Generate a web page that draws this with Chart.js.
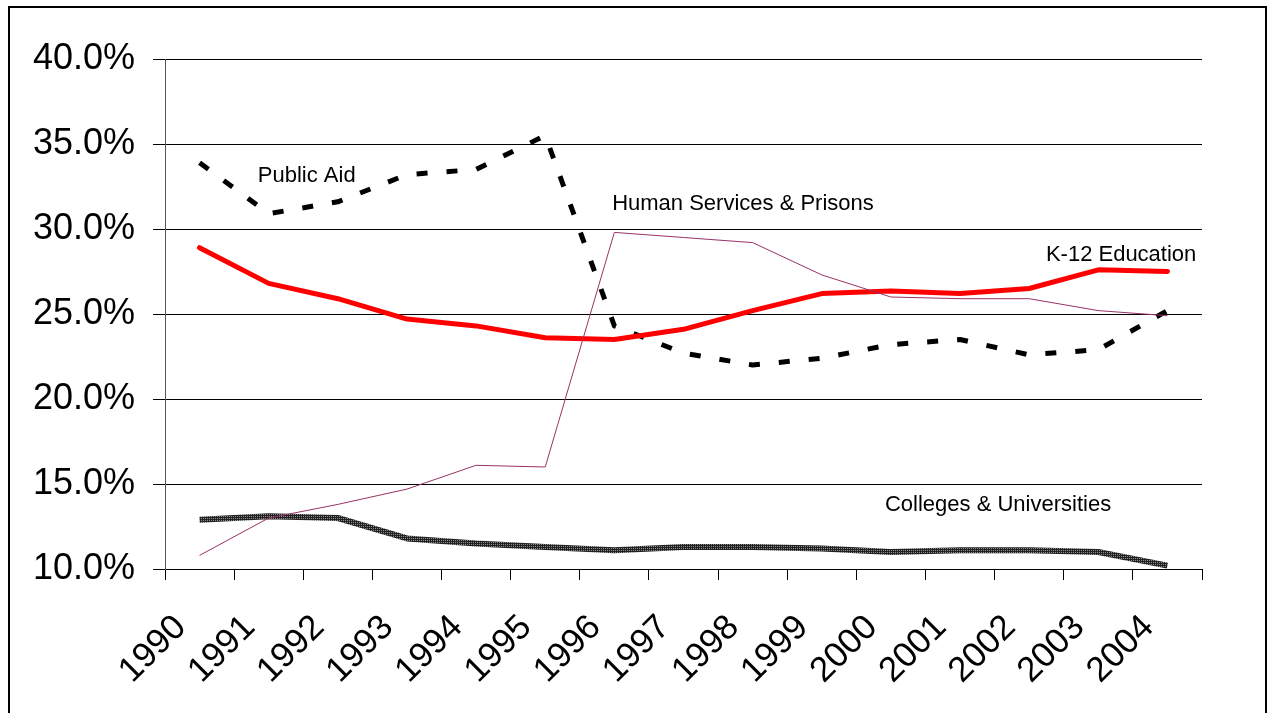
<!DOCTYPE html>
<html>
<head>
<meta charset="utf-8">
<script src="https://cdn.jsdelivr.net/npm/chart.js@4.4.1/dist/chart.umd.min.js"></script>
<style>
    body { margin: 0; background: #fff; }
    #wrap { width: 1270px; height: 713px; position: relative; }
</style>
</head>
<body>
<div id="wrap"><canvas id="spendChart"></canvas></div>
<script>
// data (share of general funds, %)
const years = ['1990', '1991', '1992', '1993', '1994', '1995', '1996', '1997', '1998', '1999', '2000', '2001', '2002', '2003', '2004'];
const publicAid = [33.9, 30.9, 31.6, 33.2, 33.5, 35.5, 24.3, 22.7, 22.0, 22.4, 23.2, 23.5, 22.6, 22.9, 25.2];
const k12Education = [28.9, 26.8, 25.9, 24.7, 24.3, 23.6, 23.5, 24.1, 25.2, 26.2, 26.35, 26.2, 26.5, 27.6, 27.5];
const humanServices = [10.8, 13.0, 13.8, 14.7, 16.1, 16.0, 29.8, 29.5, 29.2, 27.3, 26.0, 25.9, 25.9, 25.2, 24.9];
const colleges = [12.9, 13.1, 13.0, 11.8, 11.5, 11.3, 11.1, 11.3, 11.3, 11.2, 11.0, 11.1, 11.1, 11.0, 10.2];
const yTicks = [10, 15, 20, 25, 30, 35, 40];

// series names written inside the plot, anchored in data units (category index, value)
const seriesLabels = [
    { text: 'Public Aid', at: 1.55, value: 33.1 },
    { text: 'Human Services & Prisons', at: 7.86, value: 31.5 },
    { text: 'K-12 Education', at: 13.33, value: 28.5 },
    { text: 'Colleges & Universities', at: 11.55, value: 13.75 }
];

const FONT = '"Liberation Sans", Arial, sans-serif';

function texturePattern() {
    const c = document.createElement('canvas');
    c.width = 2; c.height = 2;
    const g = c.getContext('2d');
    g.fillStyle = '#222';
    g.fillRect(0, 0, 2, 2);
    g.fillStyle = '#8c8c8c';
    g.fillRect(1, 0, 1, 1);
    return g.createPattern(c, 'repeat');
}

// white page + outer frame
const framePlugin = {
    id: 'frame',
    beforeDraw(chart) {
        const ctx = chart.ctx;
        ctx.save();
        ctx.fillStyle = '#fff';
        ctx.fillRect(0, 0, chart.width, chart.height);
        ctx.strokeStyle = '#000';
        ctx.lineWidth = 2;
        ctx.strokeRect(9, 7, 1257, 740);
        ctx.restore();
    }
};

const seriesLabelPlugin = {
    id: 'seriesLabels',
    afterDatasetsDraw(chart) {
        const ctx = chart.ctx;
        const xs = chart.scales.x, ys = chart.scales.y;
        const step = xs.getPixelForValue(1) - xs.getPixelForValue(0);
        ctx.save();
        ctx.fillStyle = '#000';
        ctx.font = '22px ' + FONT;
        ctx.textAlign = 'center';
        ctx.textBaseline = 'middle';
        seriesLabels.forEach(l => {
            const px = xs.getPixelForValue(0) + l.at * step;
            ctx.fillText(l.text, px, ys.getPixelForValue(l.value));
        });
        ctx.restore();
    }
};

new Chart(document.getElementById('spendChart'), {
    type: 'line',
    data: {
        labels: years,
        datasets: [
            {
                label: 'Human Services & Prisons',
                data: humanServices,
                borderColor: '#993366',
                borderWidth: 1,
                order: 1
            },
            {
                label: 'K-12 Education',
                data: k12Education,
                borderColor: '#ff0000',
                borderWidth: 5,
                borderCapStyle: 'round',
                order: 2
            },
            {
                label: 'Public Aid',
                data: publicAid,
                borderColor: '#000',
                borderWidth: 5,
                borderDash: [11, 19],
                order: 3
            },
            {
                label: 'Colleges & Universities',
                data: colleges,
                borderColor: texturePattern(),
                borderWidth: 6,
                order: 4
            }
        ]
    },
    options: {
        responsive: true,
        maintainAspectRatio: false,
        animation: false,
        events: [],
        layout: { padding: { top: 59, right: 68, left: 0, bottom: 0 } },
        elements: {
            point: { radius: 0 },
            line: { tension: 0, borderJoinStyle: 'round' }
        },
        plugins: {
            legend: { display: false },
            tooltip: { enabled: false }
        },
        scales: {
            x: {
                offset: true,
                ticks: {
                    color: '#000',
                    font: { family: FONT, size: 35 },
                    maxRotation: 45,
                    minRotation: 45,
                    autoSkip: false,
                    padding: 27,
                    labelOffset: -19
                },
                grid: { offset: true, drawOnChartArea: false, tickLength: 11, color: '#000' },
                border: { color: '#000', width: 1 },
                afterFit: s => { s.height = 144; }
            },
            y: {
                min: yTicks[0],
                max: yTicks[yTicks.length - 1],
                afterBuildTicks: s => { s.ticks = yTicks.map(v => ({ value: v })); },
                ticks: {
                    color: '#000',
                    font: { family: FONT, size: 36 },
                    padding: 18,
                    callback: v => v.toFixed(1) + '%'
                },
                grid: { color: '#000', lineWidth: 1, tickLength: 12 },
                border: { color: '#555', width: 1 },
                afterFit: s => { s.width = 165; }
            }
        }
    },
    plugins: [framePlugin, seriesLabelPlugin]
});
</script>
</body>
</html>
